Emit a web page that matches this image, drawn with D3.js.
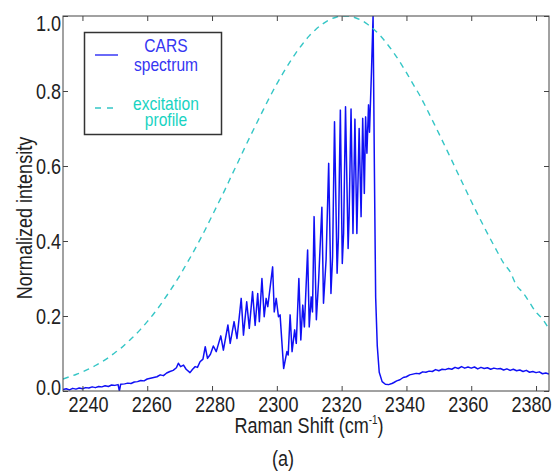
<!DOCTYPE html>
<html>
<head>
<meta charset="utf-8">
<script src="https://cdn.jsdelivr.net/npm/d3@7"></script>
<style>
  body { margin: 0; background: #fff; }
  text { font-family: "Liberation Sans", Arial, sans-serif; fill: #222; }
</style>
</head>
<body>
<div id="chart"></div>
<script>
// tick values
const xTicks = [2240, 2260, 2280, 2300, 2320, 2340, 2360, 2380];
const yTicks = [0, 0.2, 0.4, 0.6, 0.8, 1.0];

// excitation profile (dashed), read every 2 cm-1
const excShift = d3.range(2234, 2385, 2);
const excValue = [
  0.032, 0.038, 0.044, 0.051, 0.059, 0.068, 0.078, 0.089, 0.102, 0.115,
  0.131, 0.147, 0.165, 0.185, 0.206, 0.229, 0.254, 0.280, 0.307, 0.337,
  0.367, 0.399, 0.432, 0.467, 0.502, 0.537, 0.574, 0.610, 0.647, 0.683,
  0.718, 0.753, 0.787, 0.819, 0.849, 0.877, 0.903, 0.926, 0.947, 0.964,
  0.978, 0.989, 0.996, 1.000, 1.000, 0.996, 0.989, 0.978, 0.964, 0.947,
  0.926, 0.903, 0.877, 0.849, 0.819, 0.790, 0.757, 0.722, 0.687, 0.651,
  0.615, 0.578, 0.542, 0.506, 0.471, 0.437, 0.404, 0.372, 0.341, 0.318,
  0.281, 0.262, 0.236, 0.210, 0.192, 0.165
];

// CARS spectrum (solid)
const carsShift = [
  2234, 2235, 2236, 2237, 2238, 2239, 2240, 2241, 2242, 2243,
  2244, 2245, 2246, 2247, 2248, 2249, 2250, 2251, 2251.4, 2251.8,
  2253, 2254, 2255, 2256, 2257, 2258, 2259, 2260, 2261, 2262,
  2263, 2264, 2265, 2266, 2267, 2268, 2269, 2269.6, 2270.3, 2271.2,
  2272, 2273.2, 2274, 2274.8, 2275.5, 2276.3, 2277.2, 2277.9, 2278.6, 2279.5,
  2280.4, 2281.3, 2282.7, 2283.5, 2284.9, 2285.6, 2286.8, 2287.7, 2289.0, 2289.7,
  2290.7, 2291.5, 2292.5, 2293.3, 2294.1, 2294.6, 2295.4, 2296.1, 2296.7, 2297.2,
  2298.7, 2299.2, 2299.8, 2300.5, 2301.0, 2302.1, 2303.1, 2303.5, 2304.1, 2304.7,
  2305.5, 2306.0, 2306.8, 2307.4, 2308.0, 2308.5, 2309.5, 2310.0, 2310.6, 2311.0,
  2311.5, 2312.2, 2312.9, 2313.9, 2314.4, 2315.2, 2316.0, 2316.7, 2317.2, 2317.8,
  2318.6, 2319.0, 2319.6, 2320.2, 2320.6, 2321.2, 2322.0, 2322.3, 2322.9, 2323.5,
  2324.1, 2324.7, 2325.4, 2326.0, 2326.5, 2327.0, 2327.4, 2327.8, 2328.3, 2328.6,
  2329.2, 2329.7, 2330.1, 2330.5, 2331.0, 2331.6, 2332.5, 2333.5, 2334.5, 2335.5,
  2336, 2337, 2338, 2339, 2340, 2341, 2342, 2343, 2344, 2345,
  2346, 2347, 2348, 2349, 2350, 2351, 2352, 2353, 2354, 2355,
  2356, 2357, 2358, 2359, 2360, 2361, 2362, 2363, 2364, 2365,
  2366, 2367, 2368, 2369, 2370, 2371, 2372, 2373, 2374, 2375,
  2376, 2377, 2378, 2379, 2380, 2381, 2382, 2383, 2384
];
const carsValue = [
  0.004, 0.006, 0.003, 0.007, 0.005, 0.008, 0.006, 0.009, 0.008, 0.011,
  0.009, 0.012, 0.011, 0.014, 0.012, 0.016, 0.015, 0.017, 0.000, 0.018,
  0.019, 0.021, 0.020, 0.024, 0.025, 0.028, 0.027, 0.032, 0.034, 0.036,
  0.038, 0.043, 0.041, 0.048, 0.052, 0.055, 0.062, 0.074, 0.065, 0.069,
  0.058, 0.049, 0.058, 0.065, 0.063, 0.078, 0.085, 0.118, 0.087, 0.098,
  0.120, 0.105, 0.147, 0.109, 0.176, 0.127, 0.185, 0.140, 0.247, 0.149,
  0.238, 0.167, 0.265, 0.175, 0.260, 0.185, 0.300, 0.198, 0.247, 0.225,
  0.331, 0.211, 0.247, 0.198, 0.203, 0.060, 0.105, 0.096, 0.203, 0.105,
  0.163, 0.127, 0.300, 0.136, 0.229, 0.171, 0.376, 0.171, 0.251, 0.211,
  0.465, 0.190, 0.296, 0.490, 0.234, 0.350, 0.607, 0.260, 0.358, 0.718,
  0.314, 0.410, 0.749, 0.340, 0.420, 0.758, 0.380, 0.465, 0.752, 0.420,
  0.725, 0.420, 0.700, 0.465, 0.727, 0.527, 0.731, 0.634, 0.763, 0.690,
  0.850, 1.000, 0.600, 0.250, 0.120, 0.050, 0.025, 0.018, 0.017, 0.020,
  0.022, 0.027, 0.030, 0.036, 0.038, 0.043, 0.045, 0.047, 0.046, 0.051,
  0.050, 0.053, 0.052, 0.057, 0.054, 0.058, 0.057, 0.060, 0.058, 0.063,
  0.060, 0.065, 0.061, 0.064, 0.061, 0.064, 0.059, 0.063, 0.060, 0.062,
  0.058, 0.061, 0.059, 0.060, 0.056, 0.059, 0.055, 0.058, 0.054, 0.056,
  0.052, 0.055, 0.050, 0.052, 0.049, 0.051, 0.046, 0.048, 0.045
];

const margin = { top: 16, right: 5, bottom: 83, left: 63 };
const width = 554 - margin.left - margin.right;
const height = 474 - margin.top - margin.bottom;

const root = d3.select("#chart")
  .append("svg")
  .attr("width", 554)
  .attr("height", 474);

const svg = root.append("g")
  .attr("transform", `translate(${margin.left},${margin.top})`);

const x = d3.scaleLinear().domain([2234, 2384]).range([0, width]);
const y = d3.scaleLinear().domain([0, 1]).range([height, 0]);
// tick labels in the original sit on a slightly tighter spacing than the ticks
const xLabel = d3.scaleLinear().domain([2260, 2380]).range([88.3, 468]);

svg.append("clipPath").attr("id", "clip")
  .append("rect").attr("width", width).attr("height", height);

const cars = carsShift.map((s, i) => ({ s, v: carsValue[i] }));
const exc = excShift.map((s, i) => ({ s, v: excValue[i] }));

const line = d3.line().x(d => x(d.s)).y(d => y(d.v));

svg.append("path")
  .attr("clip-path", "url(#clip)")
  .attr("d", line(cars))
  .attr("fill", "none")
  .attr("stroke", "#1010f5")
  .attr("stroke-width", 1.5)
  .attr("stroke-linejoin", "round");

svg.append("path")
  .attr("clip-path", "url(#clip)")
  .attr("d", line.curve(d3.curveMonotoneX)(exc))
  .attr("fill", "none")
  .attr("stroke", "#35c6c6")
  .attr("stroke-width", 1.4)
  .attr("stroke-dasharray", "6,5");

// axes: inward ticks on all four sides
const styleAxis = g => {
  g.select(".domain").remove();
  g.selectAll("line").attr("stroke", "#444");
  g.selectAll("text").attr("font-size", 22).attr("fill", "#222");
};

svg.append("g")
  .attr("transform", `translate(0,${height})`)
  .call(d3.axisBottom(x).tickValues(xTicks).tickSize(-5).tickPadding(5).tickFormat(d3.format("d")))
  .call(styleAxis)
  .selectAll(".tick text")
  .attr("dx", d => xLabel(d) - x(d));

svg.append("g")
  .call(d3.axisTop(x).tickValues(xTicks).tickSize(-5).tickFormat(""))
  .call(styleAxis);

svg.append("g")
  .call(d3.axisLeft(y).tickValues(yTicks).tickSize(-5).tickPadding(2).tickFormat(d3.format(".1f")))
  .call(styleAxis)
  .selectAll(".tick text")
  .attr("dy", d => d === 1 ? "0.65em" : d === 0 ? "0.18em" : "0.32em");

svg.append("g")
  .attr("transform", `translate(${width},0)`)
  .call(d3.axisRight(y).tickValues(yTicks).tickSize(-5).tickFormat(""))
  .call(styleAxis);

svg.append("rect")
  .attr("width", width).attr("height", height)
  .attr("fill", "none").attr("stroke", "#444").attr("stroke-width", 1);

// legend
const legend = root.append("g");
legend.append("rect")
  .attr("x", 84.5).attr("y", 32.5).attr("width", 137).attr("height", 102)
  .attr("fill", "#fff").attr("stroke", "#333").attr("stroke-width", 1.5);

const items = [
  { lines: ["CARS", "spectrum"], color: "#3535f2", stroke: "#2a2af5", dash: null, ly: 55, ty: [52, 71] },
  { lines: ["excitation", "profile"], color: "#19d3c2", stroke: "#35c6c6", dash: "6,6", ly: 108, ty: [110, 126] }
];
items.forEach(it => {
  legend.append("line")
    .attr("x1", 95).attr("x2", 118).attr("y1", it.ly).attr("y2", it.ly)
    .attr("stroke", it.stroke).attr("stroke-width", 1.4)
    .attr("stroke-dasharray", it.dash);
  it.lines.forEach((t, i) => {
    legend.append("text")
      .attr("x", 166).attr("y", it.ty[i])
      .attr("text-anchor", "middle")
      .attr("font-size", 19)
      .style("fill", it.color)
      .text(t);
  });
});

// axis labels
const xl = root.append("text")
  .attr("x", margin.left + width / 2 + 3).attr("y", 433)
  .attr("text-anchor", "middle").attr("font-size", 22);
xl.append("tspan").text("Raman Shift (cm");
xl.append("tspan").attr("font-size", 12).attr("dy", -9).text("-1");
xl.append("tspan").attr("dy", 9).text(")");

root.append("text")
  .attr("transform", "translate(32,218) rotate(-90)")
  .attr("text-anchor", "middle").attr("font-size", 22)
  .text("Normalized intensity");

root.append("text")
  .attr("x", 283).attr("y", 466)
  .attr("text-anchor", "middle").attr("font-size", 22)
  .text("(a)");

// the original uses a condensed face: squeeze every label horizontally
root.selectAll("text").each(function() {
  const w = this.getComputedTextLength();
  if (w > 0) {
    d3.select(this).attr("textLength", w * 0.82).attr("lengthAdjust", "spacingAndGlyphs");
  }
});
</script>
</body>
</html>
